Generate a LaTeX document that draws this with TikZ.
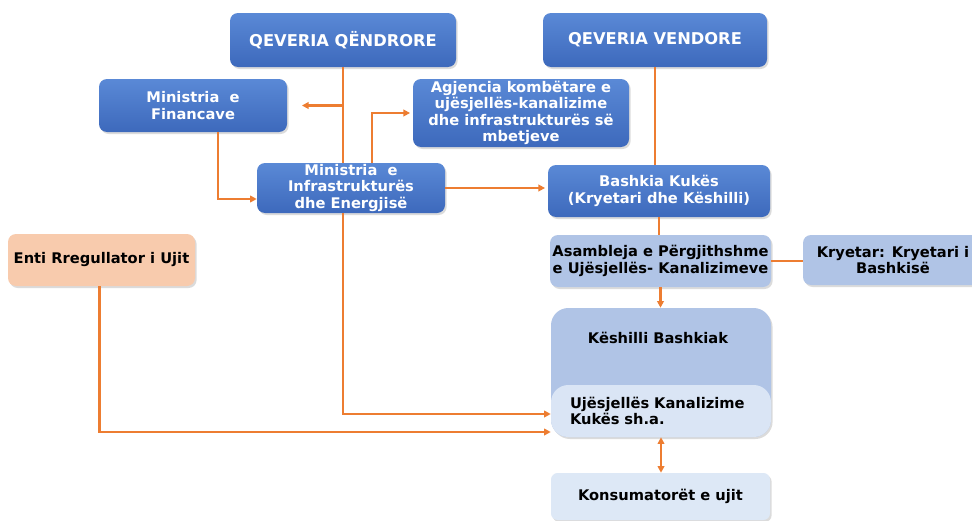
\documentclass[tikz,border=0pt]{standalone}
\usepackage{fontspec}
\setmainfont{DejaVu Sans}
\usetikzlibrary{arrows.meta,shadows,calc}
\definecolor{oline}{HTML}{ED7D31}
\definecolor{dbT}{HTML}{5A89D6}
\definecolor{dbB}{HTML}{3D69BC}
\definecolor{lb}{HTML}{B0C4E6}
\definecolor{llb}{HTML}{DAE5F5}
\definecolor{kon}{HTML}{DDE8F6}
\definecolor{peach}{HTML}{F8CBAD}
\begin{document}
\begin{tikzpicture}[x=0.75pt,y=-0.75pt,
  base/.style={rounded corners=6pt, inner sep=1pt, align=center,
    font=\fontsize{11pt}{12.3pt}\selectfont\bfseries},
  shad/.style={drop shadow={shadow xshift=1.2pt, shadow yshift=-1.5pt, opacity=0.28}},
  dark/.style={base, top color=dbT, bottom color=dbB, text=white, shad},
  light/.style={base, fill=lb, text=black, shad},
  sz/.style 2 args={minimum width=#1*0.75pt, minimum height=#2*0.75pt},
  conn/.style={draw=oline, line width=1.6pt},
  arr/.style={conn, -{Triangle[length=5pt,width=5pt]}},
  darr/.style={conn, {Triangle[length=5pt,width=5pt]}-{Triangle[length=5pt,width=5pt]}}
]
\clip (0,0) rectangle (972,521);
\fill[white] (0,0) rectangle (972,521);

\node[dark, sz={226}{54}, font=\fontsize{12.2pt}{14pt}\selectfont\bfseries] (QQ) at (343,40) {QEVERIA QËNDRORE};
\node[dark, sz={224}{54}, font=\fontsize{12.2pt}{14pt}\selectfont\bfseries] (QV) at (655,40) {QEVERIA VENDORE};
\node[dark, sz={188}{53}] (MF) at (193,105.5) {Ministria~~e\\Financave};
\node[dark, sz={216}{68}] (AG) at (521,113) {Agjencia kombëtare e\\ujësjellës-kanalizime\\dhe infrastrukturës së\\mbetjeve};
\node[dark, sz={188}{50}] (MI) at (351,188) {Ministria~~e\\Infrastrukturës\\dhe Energjisë};
\node[dark, sz={222}{52}] (BK) at (659,191) {Bashkia Kukës\\(Kryetari dhe Këshilli)};
\node[base, fill=peach, sz={187}{52}, shad] (EN) at (101.5,260) {Enti Rregullator i Ujit};
\node[light, sz={221}{52}] (AS) at (660.5,261) {Asambleja e Përgjithshme\\e Ujësjellës- Kanalizimeve};
\node[light, sz={180}{50}] (KR) at (893,260) {Kryetar: Kryetari i\\Bashkisë};
\node[light, sz={220}{129}, rounded corners=13pt] (KB) at (661,372.5) {};
\node[base, font=\fontsize{11pt}{12.3pt}\selectfont\bfseries] (KBt) at (658,338) {Këshilli Bashkiak};
\node[base, fill=llb, sz={220}{52}, rounded corners=13pt, text width=182*0.75pt, align=left] (UK) at (661,411) {Ujësjellës Kanalizime\\Kukës sh.a.};
\node[base, fill=kon, sz={219}{47}, rounded corners=5pt, shad] (KO) at (660.5,496.5) {Konsumatorët e ujit};

\coordinate (UKa) at ($(UK.west)+(0,3)$);
\coordinate (UKb) at ($(UK.west)+(0,21)$);

\draw[conn] (QQ.south) -- (QQ.south |- MI.north);
\draw[arr] (QQ.south |- MI.south) |- (UKa);
\draw[arr, shorten >=11pt] (QQ.south |- MF.east) -- (MF.east);
\draw[arr] ([xshift=25*0.75pt]MF.south) |- ($(MI.west)+(0,11)$);
\draw[arr, shorten >=2pt] ([xshift=21*0.75pt]MI.north) |- (AG.west);
\draw[arr, shorten >=2pt] (MI.east) -- (MI.east -| BK.west);
\draw[conn] (QV.south) -- (QV.south |- BK.north);
\draw[conn] (BK.south) -- (BK.south |- AS.north);
\draw[conn] (AS.east) -- (AS.east -| KR.west);
\draw[arr] (AS.south) -- (AS.south |- KB.north);
\draw[arr] ([xshift=-2*0.75pt]EN.south) |- (UKb);
\draw[darr] (KB.south) -- (KB.south |- KO.north);
\end{tikzpicture}
\end{document}
